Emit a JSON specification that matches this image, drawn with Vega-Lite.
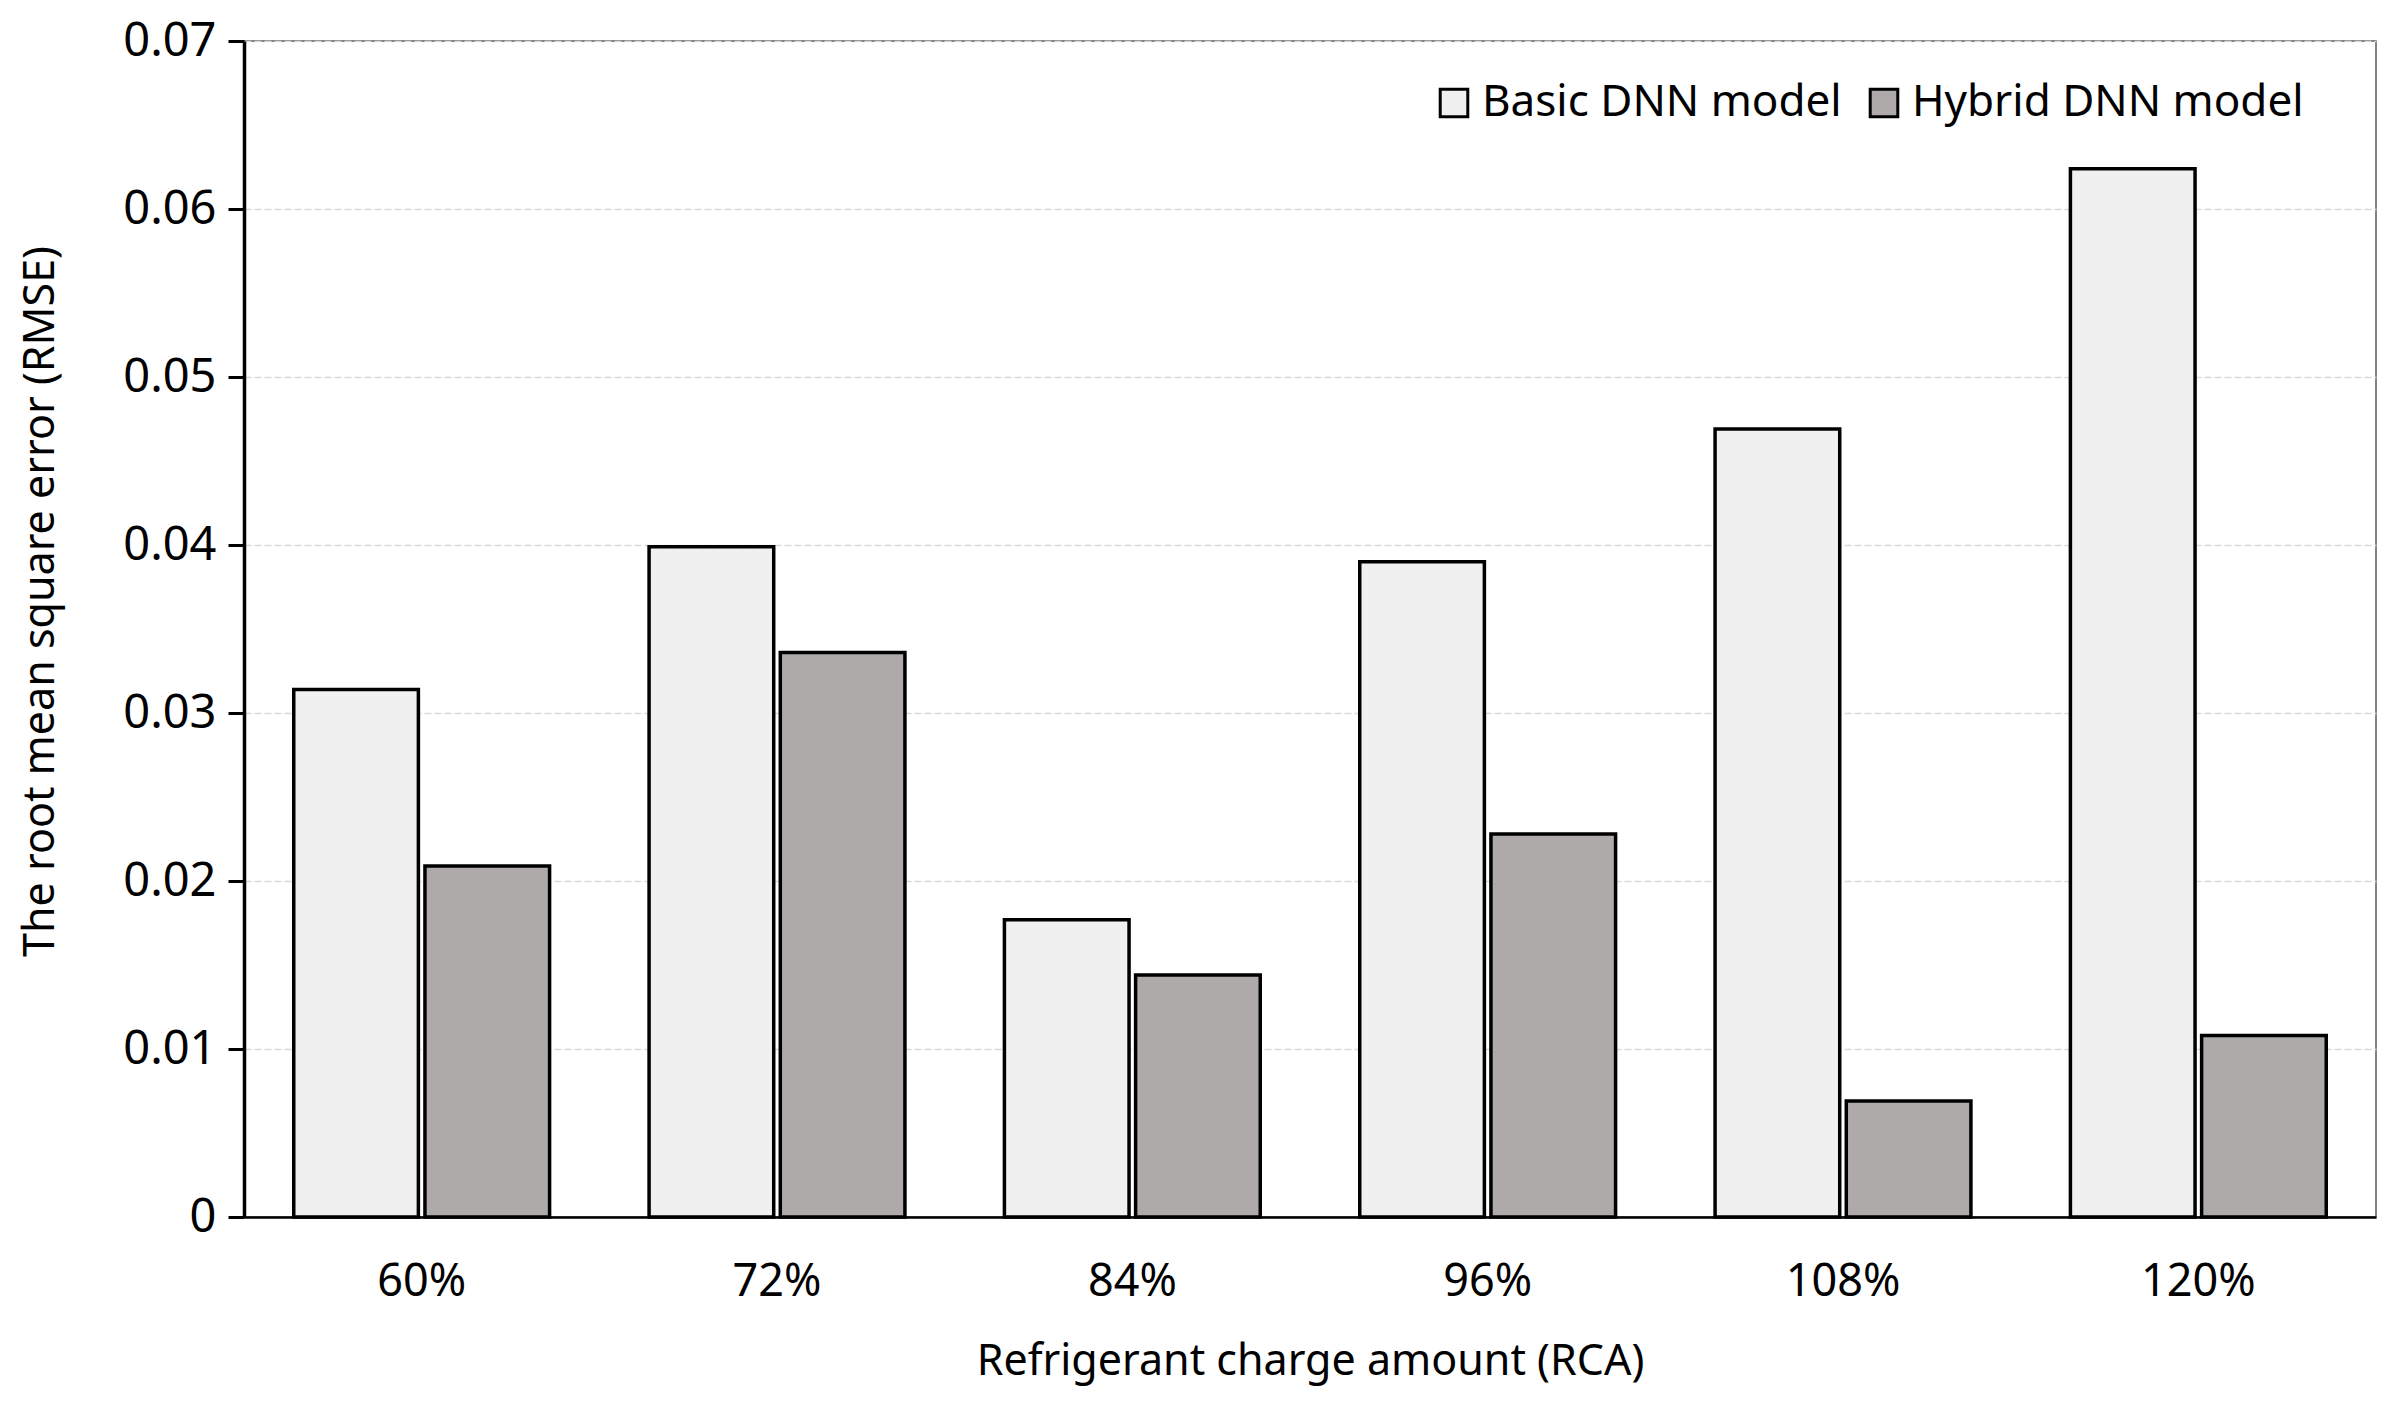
{
  "$schema": "https://vega.github.io/schema/vega-lite/v6.json",
  "width": 2132,
  "height": 1176,
  "autosize": {"type": "none"},
  "padding": {"left": 244, "top": 41, "right": 26, "bottom": 185},
  "background": "white",
  "config": {
    "font": "Noto Sans",
    "view": {"stroke": "#595959", "strokeWidth": 1.5}
  },
  "data": {
    "values": [
      {"rca": "60%", "model": "Basic DNN model", "rmse": 0.0314},
      {"rca": "60%", "model": "Hybrid DNN model", "rmse": 0.0209},
      {"rca": "72%", "model": "Basic DNN model", "rmse": 0.0399},
      {"rca": "72%", "model": "Hybrid DNN model", "rmse": 0.0336},
      {"rca": "84%", "model": "Basic DNN model", "rmse": 0.0177},
      {"rca": "84%", "model": "Hybrid DNN model", "rmse": 0.0144},
      {"rca": "96%", "model": "Basic DNN model", "rmse": 0.0390},
      {"rca": "96%", "model": "Hybrid DNN model", "rmse": 0.0228},
      {"rca": "108%", "model": "Basic DNN model", "rmse": 0.0469},
      {"rca": "108%", "model": "Hybrid DNN model", "rmse": 0.0069},
      {"rca": "120%", "model": "Basic DNN model", "rmse": 0.0624},
      {"rca": "120%", "model": "Hybrid DNN model", "rmse": 0.0108}
    ]
  },
  "mark": {"type": "bar", "stroke": "black", "strokeWidth": 3.5},
  "encoding": {
    "x": {
      "field": "rca",
      "type": "nominal",
      "sort": null,
      "scale": {"paddingInner": 0.28, "paddingOuter": 0.14},
      "axis": {
        "title": "Refrigerant charge amount (RCA)",
        "labelAngle": 0,
        "labelFontSize": 45,
        "labelColor": "#000000",
        "labelPadding": 42,
        "ticks": false,
        "domainColor": "#000000",
        "domainWidth": 2.5,
        "titleFontSize": 43,
        "titleFontWeight": "normal",
        "titleColor": "#000000",
        "titlePadding": 36
      }
    },
    "xOffset": {
      "field": "model",
      "type": "nominal",
      "scale": {"paddingInner": 0.05}
    },
    "y": {
      "field": "rmse",
      "type": "quantitative",
      "scale": {"domain": [0, 0.07]},
      "axis": {
        "title": "The root mean square error (RMSE)",
        "values": [0, 0.01, 0.02, 0.03, 0.04, 0.05, 0.06, 0.07],
        "format": "~g",
        "labelFontSize": 47,
        "labelColor": "#000000",
        "labelPadding": 12,
        "tickSize": 16,
        "tickWidth": 3,
        "tickColor": "#000000",
        "domainColor": "#000000",
        "domainWidth": 3.5,
        "grid": true,
        "gridColor": "#d9d9d9",
        "gridWidth": 1.5,
        "gridDash": [7, 3],
        "titleFontSize": 43,
        "titleFontWeight": "normal",
        "titleColor": "#000000",
        "titlePadding": 60,
        "titleY": 560
      }
    },
    "fill": {
      "field": "model",
      "type": "nominal",
      "scale": {"domain": ["Basic DNN model", "Hybrid DNN model"], "range": ["#f0f0f0", "#aeaaaa"]},
      "legend": {
        "title": null,
        "orient": "none",
        "legendX": 1188,
        "legendY": 40,
        "direction": "horizontal",
        "labelFontSize": 44,
        "labelColor": "#000000",
        "symbolType": "square",
        "symbolSize": 760,
        "symbolStrokeColor": "#000000",
        "symbolStrokeWidth": 3,
        "labelOffset": 6,
        "columnPadding": 20,
        "labelLimit": 600
      }
    }
  }
}
